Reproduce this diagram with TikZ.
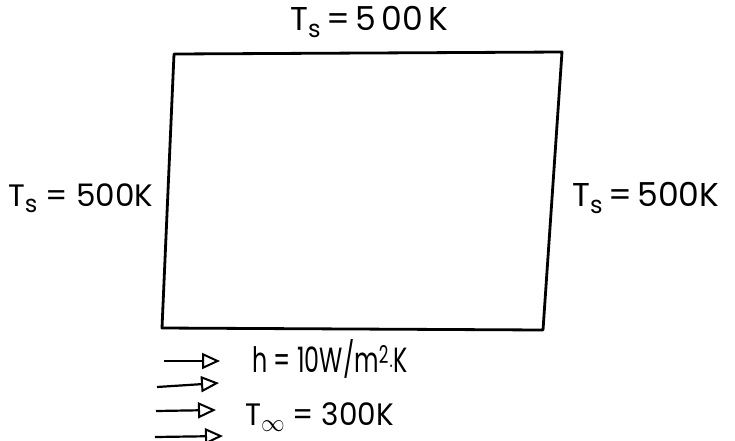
\documentclass[tikz,border=0pt]{standalone}
\usepackage{fontspec}
\setmainfont{Poppins}
\usetikzlibrary{arrows.meta,positioning}
\newcommand{\lowsub}[1]{\raisebox{-0.2em}{\fontsize{24}{24}\selectfont #1}}

\begin{document}
\begin{tikzpicture}[x=1pt, y=-1pt,
    wall/.style={draw=black, line width=2.8pt, line join=round},
    temp/.style={font=\fontsize{31}{34}\selectfont, inner sep=0pt, anchor=west},
    flow/.style={line width=2.2pt, -{Triangle[open, length=18pt, width=16pt, line width=2pt]}}
  ]
  \useasboundingbox (0,0) rectangle (735,440);

  % plate corners
  \coordinate (tl) at (174,54);
  \coordinate (tr) at (562,52);
  \coordinate (br) at (543,330);
  \coordinate (bl) at (162,328);
  \draw[wall] (tl) -- (tr) -- (br) -- (bl) -- cycle;

  % boundary temperatures
  \node[temp, font=\fontsize{33}{36}\selectfont] (ttop) at (290,22) {T\lowsub{s}\,=\,5\,00\,K};
  \node[temp] (tleft)  at (8,198)   {T\lowsub{s} = 500K};
  \node[temp, font=\fontsize{33}{36}\selectfont] (tright) at (572,198) {T\lowsub{s}\,=\,500K};

  % convection side
  \node[temp] (hconv) at (252,359) {\scalebox{0.68}[1]{\fontsize{35}{38}\selectfont h = 10W/m\textsuperscript{2}$\cdot$K}};
  \node[temp] (tinf)  at (245,417) {\scalebox{0.95}[1]{T\lowsub{$\infty$} = 300K}};

  \coordinate (a1s) at (164,361); \coordinate (a1e) at (220,361);
  \coordinate (a2s) at (157,387); \coordinate (a2e) at (219,383);
  \coordinate (a3s) at (156,411); \coordinate (a3e) at (216,410);
  \coordinate (a4s) at (155,437); \coordinate (a4e) at (223,436);
  \draw[flow] (a1s) -- (a1e);
  \draw[flow] (a2s) -- (a2e);
  \draw[flow] (a3s) -- (a3e);
  \draw[flow] (a4s) -- (a4e);
\end{tikzpicture}
\end{document}
